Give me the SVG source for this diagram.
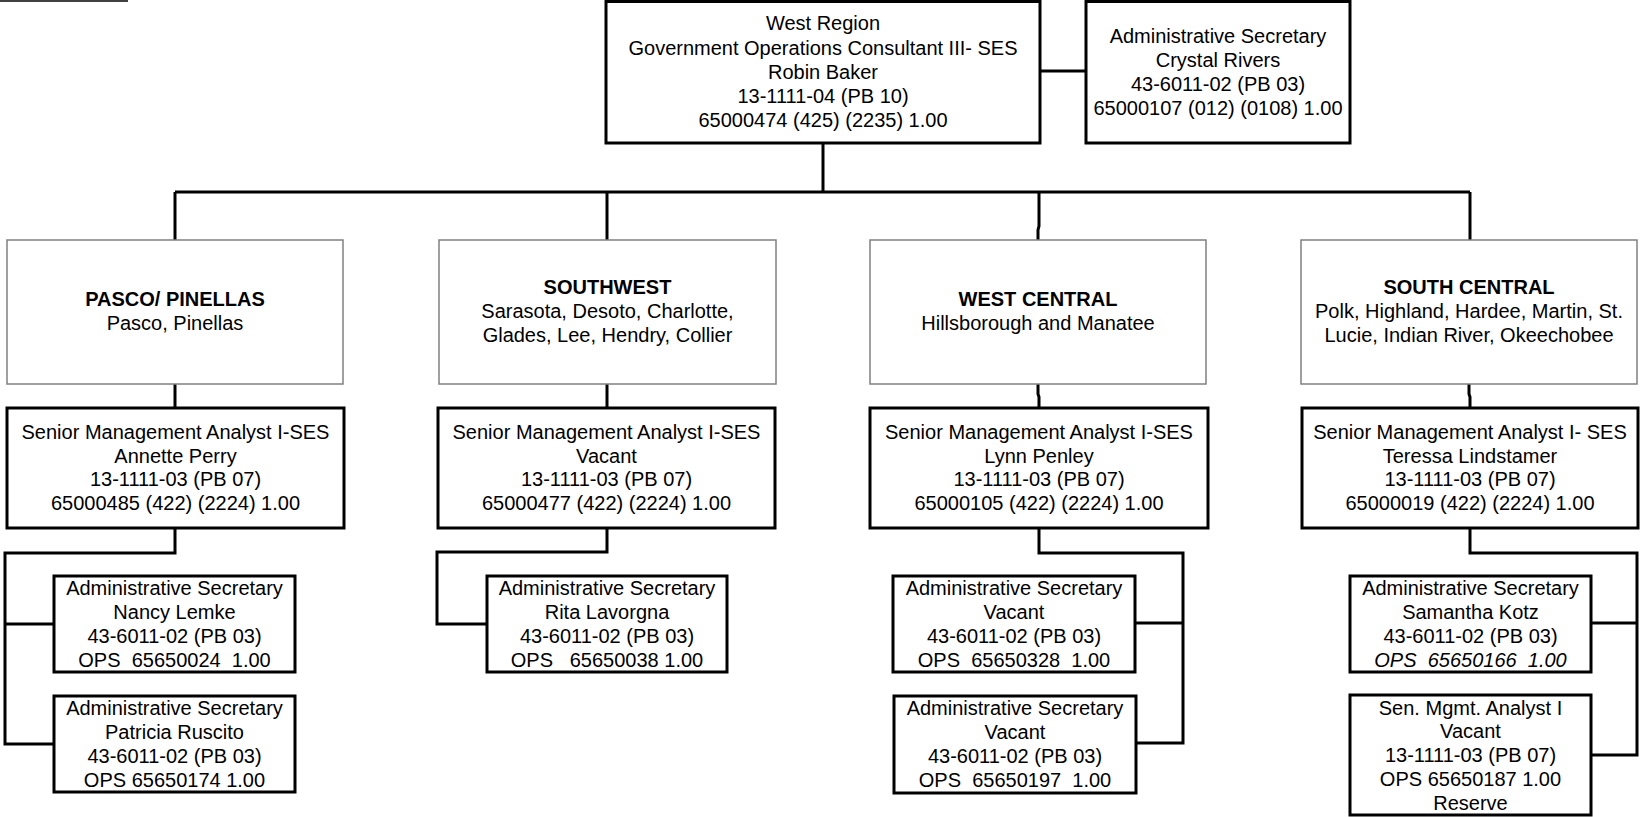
<svg xmlns="http://www.w3.org/2000/svg" width="1640" height="817" viewBox="0 0 1640 817">
<style>
  text { font-family: "Liberation Sans", Arial, sans-serif; font-size: 20px; fill: #000; text-anchor: middle; white-space: pre; }
  .b { font-weight: bold; }
  .i { font-style: italic; }
  .box { fill: #fff; stroke: #000; stroke-width: 3; }
  .reg { fill: #fff; stroke: #808080; stroke-width: 1.5; }
  .conn { fill: none; stroke: #000; stroke-width: 3; }
</style>
<rect x="0" y="0" width="1640" height="817" fill="#fff"/>
<line x1="0" y1="1" x2="128" y2="1" stroke="#404040" stroke-width="2"/>

<g id="connectors">
  <path class="conn" d="M1040,71 H1086"/>
  <path class="conn" d="M823,143 V192"/>
  <path class="conn" d="M175,192 H1470"/>
  <path class="conn" d="M175,192 V240"/>
  <path class="conn" d="M607,192 V240"/>
  <path class="conn" d="M1039,192 V226 L1038,230 V240"/>
  <path class="conn" d="M1470,192 V240"/>
  <path class="conn" d="M175,384 V408"/>
  <path class="conn" d="M607,384 V408"/>
  <path class="conn" d="M1038,384 V394 L1039,397 V408"/>
  <path class="conn" d="M1469,384 V394 L1470,397 V408"/>
  <path class="conn" d="M175,528 V553 H5 V744 H54 M5,624 H54"/>
  <path class="conn" d="M607,528 V552 H437 V624 H487"/>
  <path class="conn" d="M1039,528 V553 H1183 V743 H1136 M1183,623 H1135"/>
  <path class="conn" d="M1470,528 V553 H1637 V755 H1591 M1637,623 H1591"/>
</g>

<g id="west-region">
  <rect class="box" x="606" y="1.5" width="434" height="141.5"/>
  <text><tspan x="823" y="30">West Region</tspan><tspan x="823" y="54.5">Government Operations Consultant III- SES</tspan><tspan x="823" y="78.5">Robin Baker</tspan><tspan x="823" y="102.5">13-1111-04 (PB 10)</tspan><tspan x="823" y="126.5">65000474 (425) (2235) 1.00</tspan></text>
</g>
<g id="admin-crystal-rivers">
  <rect class="box" x="1086" y="1.5" width="264" height="141.5"/>
  <text><tspan x="1218" y="43">Administrative Secretary</tspan><tspan x="1218" y="67">Crystal Rivers</tspan><tspan x="1218" y="91">43-6011-02 (PB 03)</tspan><tspan x="1218" y="115">65000107 (012) (0108) 1.00</tspan></text>
</g>

<g id="region-pasco-pinellas">
  <rect class="reg" x="7" y="240" width="336" height="144"/>
  <text><tspan class="b" x="175" y="306">PASCO/ PINELLAS</tspan><tspan x="175" y="330">Pasco, Pinellas</tspan></text>
</g>
<g id="region-southwest">
  <rect class="reg" x="439" y="240" width="337" height="144"/>
  <text><tspan class="b" x="607.5" y="294">SOUTHWEST</tspan><tspan x="607.5" y="318">Sarasota, Desoto, Charlotte,</tspan><tspan x="607.5" y="342">Glades, Lee, Hendry, Collier</tspan></text>
</g>
<g id="region-west-central">
  <rect class="reg" x="870" y="240" width="336" height="144"/>
  <text><tspan class="b" x="1038" y="306">WEST CENTRAL</tspan><tspan x="1038" y="330">Hillsborough and Manatee</tspan></text>
</g>
<g id="region-south-central">
  <rect class="reg" x="1301" y="240" width="336" height="144"/>
  <text><tspan class="b" x="1469" y="294">SOUTH CENTRAL</tspan><tspan x="1469" y="318">Polk, Highland, Hardee, Martin, St.</tspan><tspan x="1469" y="342">Lucie, Indian River, Okeechobee</tspan></text>
</g>

<g id="sma-annette-perry">
  <rect class="box" x="7" y="408" width="337" height="120"/>
  <text><tspan x="175.5" y="439">Senior Management Analyst I-SES</tspan><tspan x="175.5" y="463">Annette Perry</tspan><tspan x="175.5" y="486">13-1111-03 (PB 07)</tspan><tspan x="175.5" y="510">65000485 (422) (2224) 1.00</tspan></text>
</g>
<g id="sma-vacant-sw">
  <rect class="box" x="438" y="408" width="337" height="120"/>
  <text><tspan x="606.5" y="439">Senior Management Analyst I-SES</tspan><tspan x="606.5" y="463">Vacant</tspan><tspan x="606.5" y="486">13-1111-03 (PB 07)</tspan><tspan x="606.5" y="510">65000477 (422) (2224) 1.00</tspan></text>
</g>
<g id="sma-lynn-penley">
  <rect class="box" x="870" y="408" width="338" height="120"/>
  <text><tspan x="1039" y="439">Senior Management Analyst I-SES</tspan><tspan x="1039" y="463">Lynn Penley</tspan><tspan x="1039" y="486">13-1111-03 (PB 07)</tspan><tspan x="1039" y="510">65000105 (422) (2224) 1.00</tspan></text>
</g>
<g id="sma-teressa-lindstamer">
  <rect class="box" x="1302" y="408" width="336" height="120"/>
  <text><tspan x="1470" y="439">Senior Management Analyst I- SES</tspan><tspan x="1470" y="463">Teressa Lindstamer</tspan><tspan x="1470" y="486">13-1111-03 (PB 07)</tspan><tspan x="1470" y="510">65000019 (422) (2224) 1.00</tspan></text>
</g>

<g id="as-nancy-lemke">
  <rect class="box" x="54" y="576" width="241" height="96"/>
  <text><tspan x="174.5" y="595">Administrative Secretary</tspan><tspan x="174.5" y="619">Nancy Lemke</tspan><tspan x="174.5" y="643">43-6011-02 (PB 03)</tspan><tspan x="174.5" y="667">OPS  65650024  1.00</tspan></text>
</g>
<g id="as-patricia-ruscito">
  <rect class="box" x="54" y="696" width="241" height="96"/>
  <text><tspan x="174.5" y="715">Administrative Secretary</tspan><tspan x="174.5" y="739">Patricia Ruscito</tspan><tspan x="174.5" y="763">43-6011-02 (PB 03)</tspan><tspan x="174.5" y="787">OPS 65650174 1.00</tspan></text>
</g>
<g id="as-rita-lavorgna">
  <rect class="box" x="487" y="576" width="240" height="96"/>
  <text><tspan x="607" y="595">Administrative Secretary</tspan><tspan x="607" y="619">Rita Lavorgna</tspan><tspan x="607" y="643">43-6011-02 (PB 03)</tspan><tspan x="607" y="667">OPS   65650038 1.00</tspan></text>
</g>
<g id="as-vacant-wc-1">
  <rect class="box" x="893" y="576" width="242" height="96"/>
  <text><tspan x="1014" y="595">Administrative Secretary</tspan><tspan x="1014" y="619">Vacant</tspan><tspan x="1014" y="643">43-6011-02 (PB 03)</tspan><tspan x="1014" y="667">OPS  65650328  1.00</tspan></text>
</g>
<g id="as-vacant-wc-2">
  <rect class="box" x="894" y="696" width="242" height="97"/>
  <text><tspan x="1015" y="715">Administrative Secretary</tspan><tspan x="1015" y="739">Vacant</tspan><tspan x="1015" y="763">43-6011-02 (PB 03)</tspan><tspan x="1015" y="787">OPS  65650197  1.00</tspan></text>
</g>
<g id="as-samantha-kotz">
  <rect class="box" x="1350" y="576" width="241" height="96"/>
  <text><tspan x="1470.5" y="595">Administrative Secretary</tspan><tspan x="1470.5" y="619">Samantha Kotz</tspan><tspan x="1470.5" y="643">43-6011-02 (PB 03)</tspan><tspan class="i" x="1470.5" y="667">OPS  65650166  1.00</tspan></text>
</g>
<g id="sma-vacant-reserve">
  <rect class="box" x="1350" y="695" width="241" height="120"/>
  <text><tspan x="1470.5" y="715">Sen. Mgmt. Analyst I</tspan><tspan x="1470.5" y="738">Vacant</tspan><tspan x="1470.5" y="762">13-1111-03 (PB 07)</tspan><tspan x="1470.5" y="786">OPS 65650187 1.00</tspan><tspan x="1470.5" y="810">Reserve</tspan></text>
</g>
</svg>
